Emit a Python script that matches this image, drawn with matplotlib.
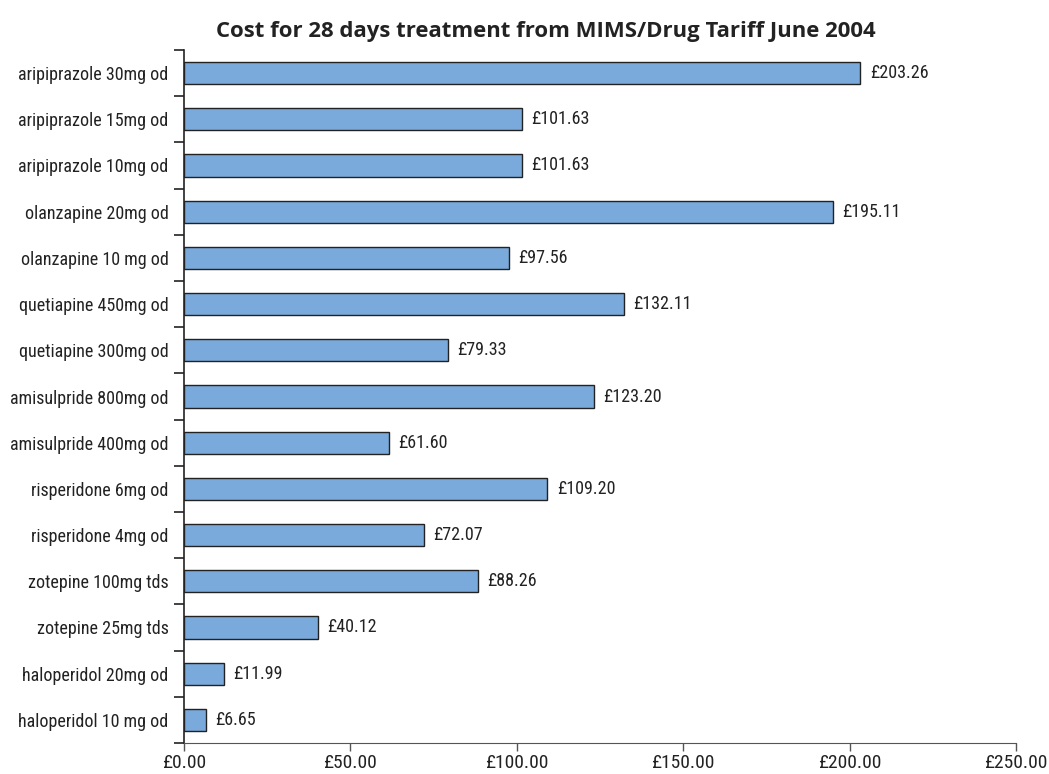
import matplotlib
matplotlib.use("Agg")
import matplotlib.pyplot as plt
from matplotlib.ticker import FixedLocator

plt.rcParams['font.family'] = ['Roboto Condensed', 'Roboto', 'DejaVu Sans']

# drugs listed bottom to top
drugs = [
    "haloperidol 10 mg od", "haloperidol 20mg od", "zotepine 25mg tds",
    "zotepine 100mg tds", "risperidone 4mg od", "risperidone 6mg od",
    "amisulpride 400mg od", "amisulpride 800mg od", "quetiapine 300mg od",
    "quetiapine 450mg od", "olanzapine 10 mg od", "olanzapine 20mg od",
    "aripiprazole 10mg od", "aripiprazole 15mg od", "aripiprazole 30mg od",
]
costs = [6.65, 11.99, 40.12, 88.26, 72.07, 109.20, 61.60, 123.20, 79.33,
         132.11, 97.56, 195.11, 101.63, 101.63, 203.26]
xticks = [0, 50, 100, 150, 200, 250]

fig = plt.figure(figsize=(10.49, 7.74), dpi=100)
ax = fig.add_axes([184 / 1049, 1 - 743 / 774, (1016 - 184) / 1049, (743 - 50) / 774])

ypos = list(range(len(drugs)))
ax.barh(ypos, costs, height=0.48, color="#7aa9db", edgecolor="#222222", linewidth=1)

for y, c in zip(ypos, costs):
    ax.text(c + 2.8, y, "£%.2f" % c, va="center", ha="left", fontsize=13, color="#222222")

ax.set_xlim(0, 250)
ax.set_ylim(-0.5, len(drugs) - 0.5)
ax.set_xticks(xticks)
ax.set_xticklabels(["£%.2f" % v for v in xticks], fontsize=14, color="#222222")
ax.set_yticks(ypos)
ax.set_yticklabels(drugs, fontsize=13, color="#222222")
ax.tick_params(axis="y", which="major", length=0, pad=11)
ax.yaxis.set_minor_locator(FixedLocator([i - 0.5 for i in range(len(drugs) + 1)]))
ax.tick_params(axis="y", which="minor", length=7, width=1.2, color="#222222")
ax.tick_params(axis="x", length=6, width=1, color="#555555", pad=2)

for s in ["top", "right"]:
    ax.spines[s].set_visible(False)
ax.spines["left"].set_color("#222222")
ax.spines["left"].set_linewidth(1.2)
ax.spines["bottom"].set_color("#555555")

fig.text(546 / 1049, 1 - 32 / 774, "Cost for 28 days treatment from MIMS/Drug Tariff June 2004",
         ha="center", va="center", fontsize=15.9, fontweight="bold", color="#222222",
         family=["Open Sans", "DejaVu Sans"])

fig.savefig("out.png", dpi=100)
